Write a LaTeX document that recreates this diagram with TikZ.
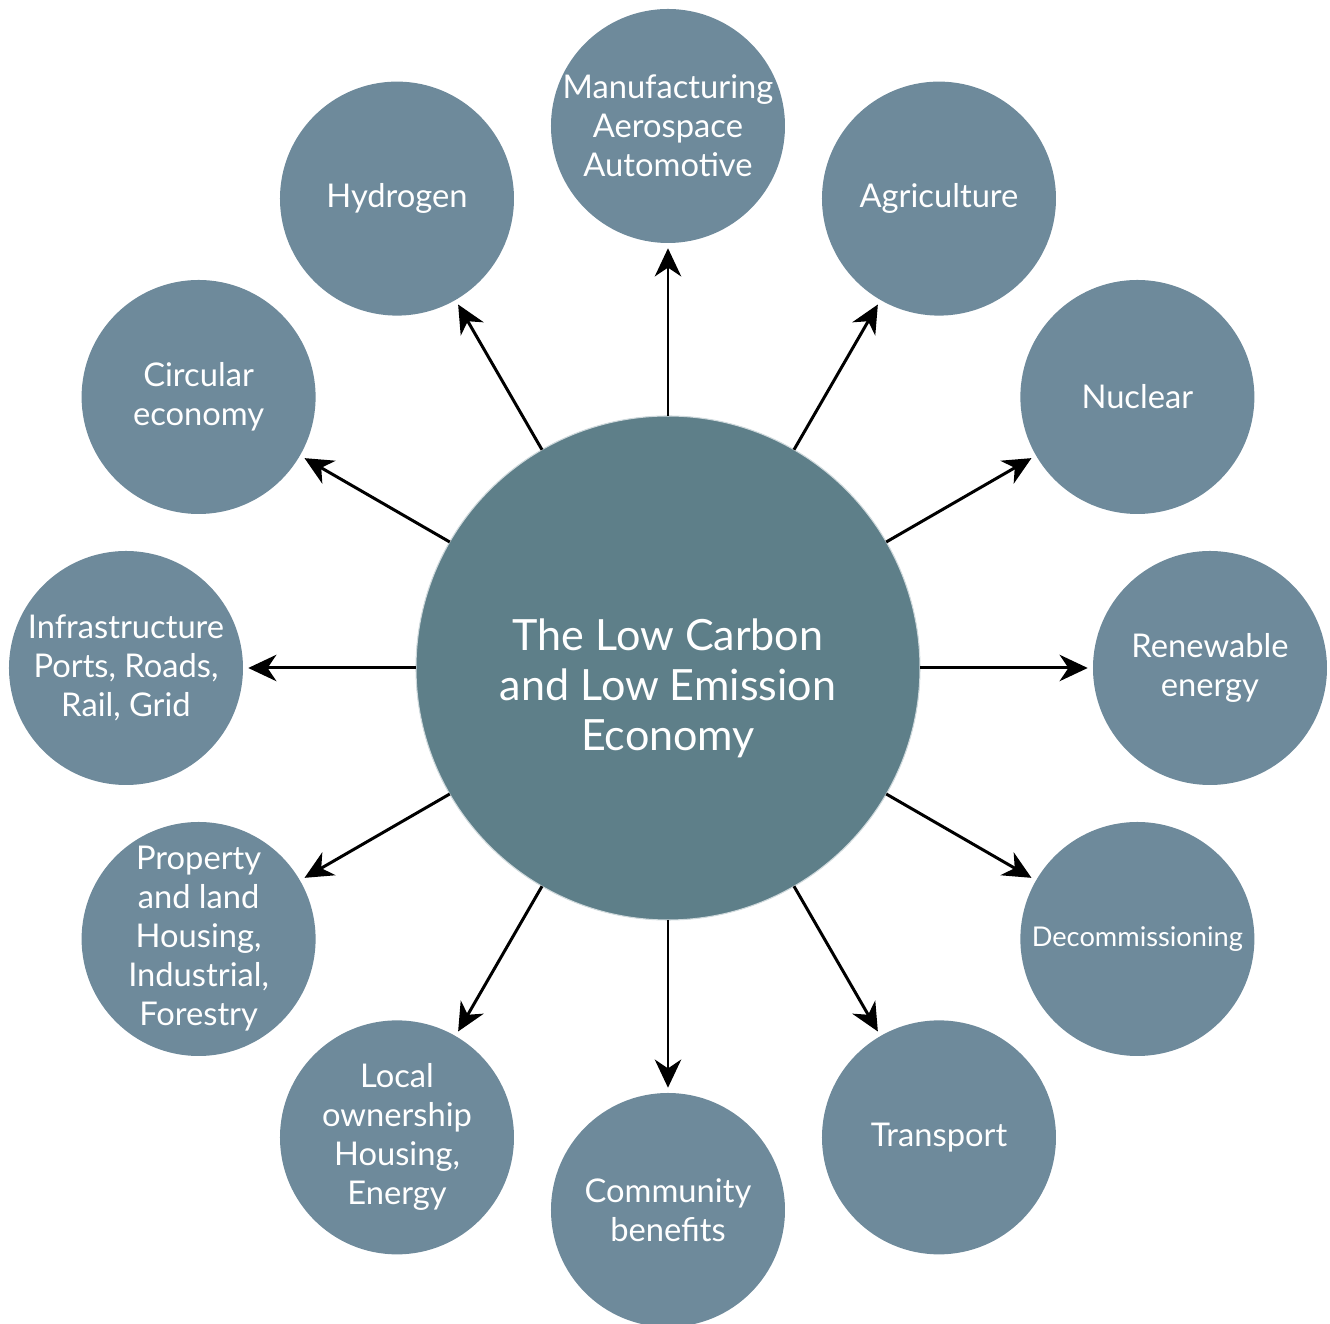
\documentclass[tikz,border=0pt]{standalone}
\usepackage{fontspec}
\setmainfont{Lato}
\usepackage{xcolor}
\usetikzlibrary{arrows.meta}

\definecolor{hubfill}{RGB}{94,127,137}
\definecolor{spokefill}{RGB}{110,138,155}

\begin{document}
\begin{tikzpicture}[
  every node/.style={text=white, align=center},
  hub/.style={circle, fill=hubfill, draw=hubfill!30!white, line width=0.6pt, minimum size=10.08cm, inner sep=0pt, outer sep=0pt},
  hubtext/.style={font=\fontsize{24.5}{28.5}\selectfont},
  spoke/.style={circle, fill=spokefill, minimum size=4.68cm, inner sep=0pt, outer sep=0pt, font=\fontsize{18.6}{22.2}\selectfont},
  edge/.style={-{Stealth[length=16pt, width=15pt, inset=5pt]}, line width=1.7pt, shorten >=3pt}
]
\useasboundingbox (-13.36,-13.12) rectangle (13.24,13.36);

\node[hub] (economy) at (0,0) {};
\node[hubtext] (title) at (0,-0.4) {The Low Carbon\\and Low Emission\\Economy};

\node[spoke] (manuf) at (90:10.84) {Manufacturing\\Aerospace\\Automotive};
\node[spoke] (agri) at (60:10.84) {Agriculture};
\node[spoke] (nuclear) at (30:10.84) {Nuclear};
\node[spoke] (renew) at (0:10.84) {Renewable\\energy};
\node[spoke, font=\fontsize{15.5}{18}\selectfont] (decom) at (-30:10.84) {Decommissioning};
\node[spoke] (transport) at (-60:10.84) {Transport};
\node[spoke] (community) at (-90:10.84) {Community\\benefits};
\node[spoke] (local) at (-120:10.84) {Local\\ownership\\Housing,\\Energy};
\node[spoke] (property) at (-150:10.84) {Property\\and land\\Housing,\\Industrial,\\Forestry};
\node[spoke] (infra) at (180:10.84) {Infrastructure\\Ports, Roads,\\Rail, Grid};
\node[spoke] (circular) at (150:10.84) {Circular\\economy};
\node[spoke] (hydrogen) at (120:10.84) {Hydrogen};

\draw[edge] (economy) -- (manuf);
\draw[edge] (economy) -- (agri);
\draw[edge] (economy) -- (nuclear);
\draw[edge] (economy) -- (renew);
\draw[edge] (economy) -- (decom);
\draw[edge] (economy) -- (transport);
\draw[edge] (economy) -- (community);
\draw[edge] (economy) -- (local);
\draw[edge] (economy) -- (property);
\draw[edge] (economy) -- (infra);
\draw[edge] (economy) -- (circular);
\draw[edge] (economy) -- (hydrogen);
\end{tikzpicture}
\end{document}
